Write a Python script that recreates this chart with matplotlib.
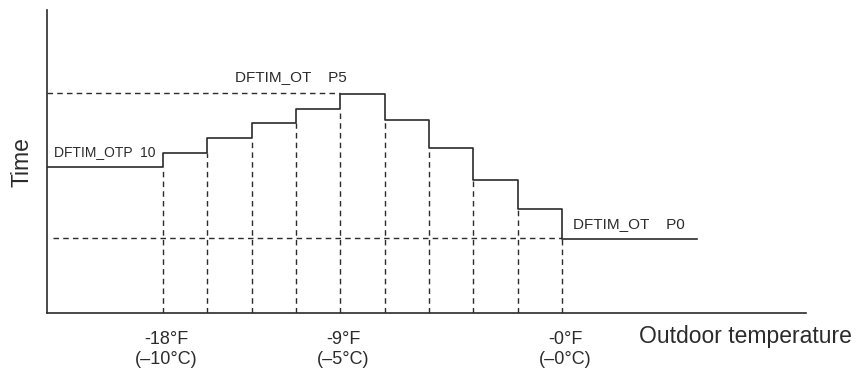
import matplotlib
matplotlib.use("Agg")
import matplotlib.pyplot as plt

# step edges (index of each change of outdoor temperature band)
edges = [0, 1, 2, 3, 4, 5, 6, 7, 8, 9]
# defrost time level for each band, left to right (arbitrary units)
levels = [146, 160, 175, 190, 204, 219, 193, 165, 133, 104, 74]
x_start, x_end = -2.62, 12.05

tick_pos = [0, 4, 9]
tick_labels = ["-18\u00b0F\n(\u201310\u00b0C)", "-9\u00b0F\n(\u20135\u00b0C)", "-0\u00b0F\n(\u20130\u00b0C)"]

label_p10 = "DFTIM_OTP  10"
label_p5 = "DFTIM_OT    P5"
label_p0 = "DFTIM_OT    P0"

ink = "#2b2b2b"
plt.rcParams["font.family"] = ["Liberation Sans", "DejaVu Sans"]

W, H = 859, 374
fig = plt.figure(figsize=(W / 100, H / 100), dpi=100)
ax = fig.add_axes([47 / W, 61 / H, 759 / W, 303 / H])
ax.set_xlim(x_start, 14.51)
ax.set_ylim(0, 303)

for s in ("top", "right"):
    ax.spines[s].set_visible(False)
for s in ("left", "bottom"):
    ax.spines[s].set_color(ink)
    ax.spines[s].set_linewidth(1.2)

dash = dict(color=ink, lw=1.0, dashes=(4, 3))

# dashed verticals down from each step
for i, k in enumerate(edges):
    ax.plot([k, k], [0, min(levels[i], levels[i + 1])], **dash)

# reference levels P5 and P0
top = max(levels)
ax.plot([x_start, edges[levels.index(top) - 1]], [top + 1, top + 1], **dash)
ax.plot([-2.48, edges[-1]], [levels[-1] + 1, levels[-1] + 1], **dash)

# the step curve
xs = [x_start] + edges + [x_end]
ys = levels + [levels[-1]]
ax.step(xs, ys, where="post", color=ink, lw=1.2)

ax.set_yticks([])
ax.set_xticks([p + 0.07 for p in tick_pos])
ax.set_xticklabels(tick_labels, fontsize=13, color=ink, linespacing=1.25)
ax.tick_params(axis="x", length=0, pad=13)

ax.text(-2.46, 161, label_p10, fontsize=10, color=ink, va="center")
ax.text(1.63, 236, label_p5, fontsize=11, color=ink, va="center")
ax.text(9.26, 89, label_p0, fontsize=11, color=ink, va="center")

fig.text(639 / W, 1 - 337 / H, "Outdoor temperature", fontsize=16.5, color=ink, va="center")
fig.text(22 / W, 1 - 162 / H, "Time", fontsize=16.5, color=ink, rotation=90, ha="center", va="center")

fig.savefig("out.png", dpi=100)
